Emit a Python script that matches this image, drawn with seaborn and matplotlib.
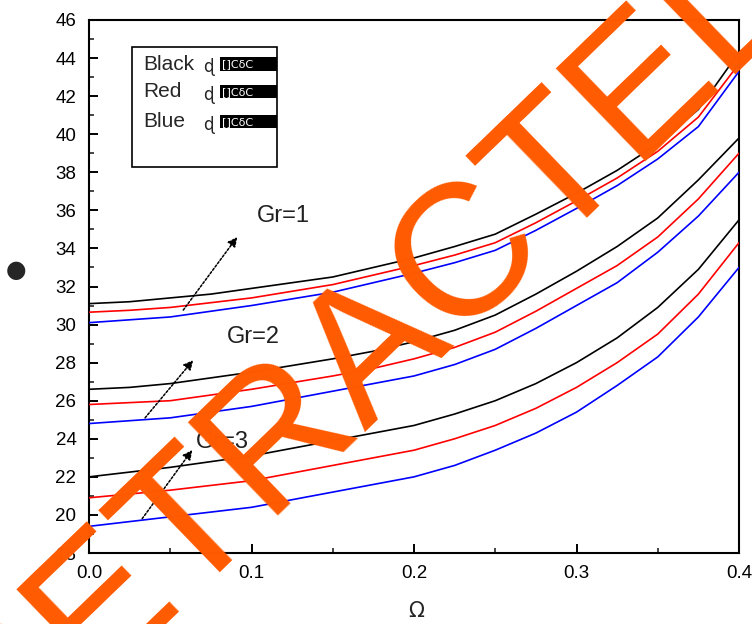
import numpy as np
import pandas as pd
import matplotlib
matplotlib.use("Agg")
import matplotlib.pyplot as plt
from matplotlib.patches import Rectangle
from matplotlib.ticker import MultipleLocator, FormatStrFormatter
import seaborn as sns

# ---------------- data ----------------
omega = [0.0, 0.025, 0.05, 0.075, 0.1, 0.125, 0.15, 0.175, 0.2, 0.225, 0.25,
         0.275, 0.3, 0.325, 0.35, 0.375, 0.4]

gr1_black = [31.1, 31.2, 31.4, 31.6, 31.9, 32.2, 32.5, 33.0, 33.5, 34.1, 34.75,
             35.8, 36.9, 38.1, 39.5, 41.3, 44.3]
gr1_red   = [30.65, 30.75, 30.9, 31.15, 31.4, 31.75, 32.1, 32.6, 33.1, 33.65, 34.3,
             35.35, 36.5, 37.7, 39.1, 40.9, 43.7]
gr1_blue  = [30.1, 30.25, 30.4, 30.7, 31.0, 31.35, 31.7, 32.2, 32.7, 33.25, 33.9,
             34.95, 36.1, 37.3, 38.7, 40.4, 43.3]

gr2_black = [26.6, 26.7, 26.9, 27.2, 27.5, 27.85, 28.2, 28.6, 29.1, 29.7, 30.5,
             31.6, 32.8, 34.1, 35.6, 37.6, 39.8]
gr2_red   = [25.8, 25.9, 26.0, 26.3, 26.6, 26.95, 27.3, 27.7, 28.2, 28.8, 29.6,
             30.7, 31.9, 33.1, 34.6, 36.6, 39.0]
gr2_blue  = [24.8, 24.95, 25.1, 25.4, 25.7, 26.1, 26.5, 26.9, 27.3, 27.9, 28.7,
             29.8, 31.0, 32.2, 33.8, 35.7, 38.0]

gr3_black = [22.0, 22.25, 22.5, 22.8, 23.1, 23.5, 23.9, 24.3, 24.7, 25.3, 26.0,
             26.9, 28.0, 29.3, 30.9, 32.9, 35.5]
gr3_red   = [20.9, 21.1, 21.3, 21.55, 21.8, 22.2, 22.6, 23.0, 23.4, 24.0, 24.7,
             25.6, 26.7, 28.0, 29.5, 31.6, 34.3]
gr3_blue  = [19.4, 19.65, 19.9, 20.15, 20.4, 20.8, 21.2, 21.6, 22.0, 22.6, 23.4,
             24.3, 25.4, 26.8, 28.3, 30.4, 33.0]

gr_labels = ["Gr=1", "Gr=2", "Gr=3"]
gr_label_pos = [(0.1035, 35.7), (0.085, 29.35), (0.066, 23.85)]
gr_arrow_start = [(0.058, 30.76), (0.0345, 25.1), (0.0327, 19.8)]
gr_arrow_tip = [(0.0912, 34.6), (0.0641, 28.13), (0.0635, 23.41)]

legend_names = ["Black", "Red", "Blue"]
series_colors = ["black", "red", "blue"]

x_ticks = [0.0, 0.1, 0.2, 0.3, 0.4]
y_ticks = list(range(18, 47, 2))

watermark = "RETRACTED"

# ---------------- build long table ----------------
groups = {
    "Gr=1": [gr1_black, gr1_red, gr1_blue],
    "Gr=2": [gr2_black, gr2_red, gr2_blue],
    "Gr=3": [gr3_black, gr3_red, gr3_blue],
}
rows = []
for g, series in groups.items():
    for name, vals in zip(legend_names, series):
        for xv, yv in zip(omega, vals):
            rows.append({"omega": xv, "value": yv, "colour": name, "group": g})
df = pd.DataFrame(rows)

# ---------------- styling ----------------
sns.set_style("ticks")
plt.rcParams["font.family"] = ["Liberation Sans", "DejaVu Sans"]

fig = plt.figure(figsize=(7.52, 6.24), dpi=100)
ax = fig.add_axes([89 / 752, 71 / 624, 650 / 752, 533 / 624])

palette = dict(zip(legend_names, series_colors))
for g in groups:
    sub = df[df["group"] == g]
    sns.lineplot(data=sub, x="omega", y="value", hue="colour", palette=palette,
                 linewidth=1.2, legend=False, ax=ax, zorder=3)

ax.set_xlim(0, 0.4)
ax.set_ylim(18, 46)
ax.set_xticks(x_ticks)
ax.set_yticks(y_ticks)
ax.xaxis.set_major_formatter(FormatStrFormatter("%.1f"))
ax.xaxis.set_minor_locator(MultipleLocator(0.05))
ax.yaxis.set_minor_locator(MultipleLocator(1))
ax.tick_params(axis="both", which="major", direction="in", length=6.5, width=1.4,
               labelsize=13.5, pad=9, colors="black", top=False, right=False)
ax.tick_params(axis="both", which="minor", direction="in", length=3.5, width=1.2,
               top=False, right=False)
for s in ax.spines.values():
    s.set_visible(True)
    s.set_linewidth(1.5)
    s.set_color("black")
ax.set_xlabel("")
ax.set_ylabel("")

# Gr annotations with dotted arrows
for lab, lp, st, tp in zip(gr_labels, gr_label_pos, gr_arrow_start, gr_arrow_tip):
    ax.annotate("", xy=tp, xytext=st,
                arrowprops=dict(arrowstyle="-|>", linestyle=(0, (1.5, 1.2)), color="black",
                                lw=1.1, mutation_scale=14, shrinkA=0, shrinkB=0), zorder=4)
    ax.text(lp[0], lp[1], lab, fontsize=17, ha="left", va="center", color="#202020", zorder=4)

# legend box
ax.add_patch(Rectangle((0.066, 0.724), 0.223, 0.225, transform=ax.transAxes,
                       facecolor="white", edgecolor="black", lw=1.2, zorder=5))
leg_y = [0.917, 0.865, 0.809]
for name, y in zip(legend_names, leg_y):
    ax.text(0.083, y, name, transform=ax.transAxes, fontsize=15, ha="left", va="center", zorder=6)
    ax.text(0.176, y - 0.006, "ɖ", transform=ax.transAxes, fontsize=12, ha="left", va="center",
            family="DejaVu Sans", zorder=6)
    ax.add_patch(Rectangle((0.2015, y - 0.012), 0.0875, 0.025, transform=ax.transAxes,
                           facecolor="black", edgecolor="none", zorder=6))
    ax.text(0.205, y, "[]C\u03b4C", transform=ax.transAxes, fontsize=8, ha="left", va="center",
            color="white", family="DejaVu Sans", zorder=7)

# axis labels
fig.text(416 / 752, 1 - 611 / 624, "\u03a9", fontsize=15, ha="center", va="center",
         family="DejaVu Sans")
fig.text(16 / 752, 1 - 270 / 624, "\u25cf", fontsize=17, ha="center", va="center",
         family="DejaVu Sans")

# watermark
fig.text(-6 / 752, (624 - 776) / 624, watermark, fontsize=135, color="#FF5A00",
         rotation=44, rotation_mode="anchor", ha="left", va="baseline", zorder=10)

fig.savefig("out.png", dpi=100)
